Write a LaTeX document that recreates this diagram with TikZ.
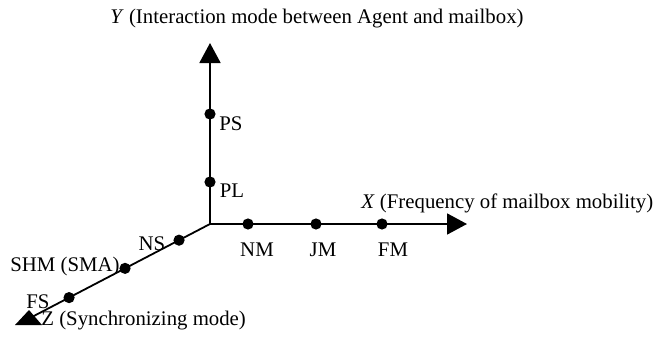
\documentclass[tikz,border=0pt]{standalone}
\usepackage{fontspec}
\setmainfont{Liberation Serif}
\usetikzlibrary{arrows.meta,calc}
\tikzset{
  axis/.style={line width=0.9pt,-{Triangle[length=10pt,width=10.5pt]}},
  dot/.style={circle,fill=black,inner sep=0pt,minimum size=5.6pt},
  lbl/.style={inner sep=0pt,font=\fontsize{10.4}{12}\selectfont}
}
\begin{document}
\begin{tikzpicture}[x=0.5pt,y=-0.5pt]
\useasboundingbox (0,0) rectangle (655,338);
\coordinate (O) at (210,224);
\coordinate (xend) at (467,224);
\coordinate (yend) at (210,43);
\coordinate (zend) at (30,318);
\draw[axis] (O) -- (xend);
\draw[axis] (O) -- (yend);
\draw[line width=0.9pt] (O) -- (zend);
\fill (zend) ++(-15,7) -- ++(14,-15) -- ++(13,15) -- cycle;
% points on the axes
\node[dot] (PS) at (210,114) {};
\node[dot] (PL) at (210,182) {};
\node[dot] (NM) at (248,224) {};
\node[dot] (JM) at (316,224) {};
\node[dot] (FM) at (382,224) {};
\node[dot] (NS) at ($(O)!0.172!(zend)$) {};
\node[dot] (SHM) at ($(O)!0.472!(zend)$) {};
\node[dot] (FS) at ($(O)!0.783!(zend)$) {};
% labels
\node[lbl] (PSl) at (231,124) {PS};
\node[lbl] (PLl) at (232,191) {PL};
\node[lbl] (NMl) at (257,250) {NM};
\node[lbl] (JMl) at (323,250) {JM};
\node[lbl] (FMl) at (393,250) {FM};
\node[lbl] (NSl) at (152,244) {NS};
\node[lbl] (SHMl) at (65,266) {SHM (SMA)};
\node[lbl] (FSl) at (38,302) {FS};
\node[lbl,anchor=west] (zlbl) at (41,321) {Z (Synchronizing mode)};
\node[lbl,anchor=west] (xlbl) at (361,203) {\textit{X} (Frequency of mailbox mobility)};
\node[lbl] (ylbl) at (317,19) {\textit{Y} (Interaction mode between Agent and mailbox)};
\end{tikzpicture}
\end{document}
